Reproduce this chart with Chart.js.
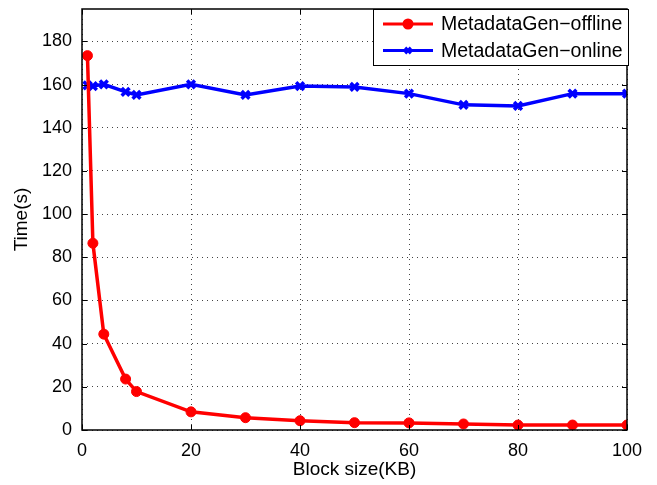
<!DOCTYPE html>
<html>
<head>
<meta charset="utf-8">
<script src="https://cdn.jsdelivr.net/npm/chart.js@4.4.1/dist/chart.umd.min.js"></script>
<style>
  html, body { margin: 0; padding: 0; background: #fff; }
  #wrap { position: relative; width: 657px; height: 485px; }
</style>
</head>
<body>
<div id="wrap"><canvas id="chart" width="657" height="485"></canvas></div>
<script>
// block sizes (KB)
const blockSizes = [1, 2, 4, 8, 10, 20, 30, 40, 50, 60, 70, 80, 90, 100];
// time (s) per series
const offlineTimes = [173.4, 86.5, 44.4, 23.6, 17.8, 8.4, 5.7, 4.3, 3.4, 3.3, 2.8, 2.3, 2.3, 2.3];
const onlineTimes = [159.6, 159.3, 160.1, 156.6, 155.2, 160.1, 155.2, 159.3, 158.9, 155.8, 150.6, 150.1, 155.8, 155.8];
const seriesNames = ['MetadataGen\u2212offline', 'MetadataGen\u2212online'];
const xTicks = [0, 20, 40, 60, 80, 100];
const yTicks = [0, 20, 40, 60, 80, 100, 120, 140, 160, 180];

const FONT = "'Liberation Sans', Arial, Helvetica, sans-serif";

// ticks pointing inwards, matlab style, on all four sides
const innerTicks = {
    id: 'innerTicks',
    afterDatasetsDraw(chart) {
        const { ctx, chartArea: a, scales } = chart;
        ctx.save();
        ctx.strokeStyle = '#000';
        ctx.lineWidth = 1;
        ctx.beginPath();
        xTicks.forEach(v => {
            const px = Math.round(scales.x.getPixelForValue(v)) + 0.5;
            ctx.moveTo(px, a.bottom); ctx.lineTo(px, a.bottom - 5);
            ctx.moveTo(px, a.top); ctx.lineTo(px, a.top + 5);
        });
        yTicks.forEach(v => {
            const py = Math.round(scales.y.getPixelForValue(v)) + 0.5;
            ctx.moveTo(a.left, py); ctx.lineTo(a.left + 5, py);
            ctx.moveTo(a.right, py); ctx.lineTo(a.right - 5, py);
        });
        ctx.stroke();
        ctx.lineWidth = 1.5;
        ctx.strokeRect(a.left, a.top, a.right - a.left, a.bottom - a.top);
        ctx.restore();
    }
};

// legend box inside the top right corner
const boxLegend = {
    id: 'boxLegend',
    afterDraw(chart) {
        const { ctx, chartArea: a } = chart;
        const x0 = 373, y0 = a.top, w = a.right + 2 - x0, h = 57;
        ctx.save();
        ctx.fillStyle = '#fff';
        ctx.fillRect(x0, y0, w, h);
        ctx.strokeStyle = '#000';
        ctx.lineWidth = 1;
        ctx.strokeRect(x0 + 0.5, y0 + 0.5, w - 1, h - 1);
        ctx.font = '19.5px ' + FONT;
        ctx.textBaseline = 'middle';
        chart.data.datasets.forEach((ds, i) => {
            const cy = y0 + 15 + i * 26.5;
            ctx.strokeStyle = ds.borderColor;
            ctx.fillStyle = ds.borderColor;
            ctx.lineWidth = 3;
            ctx.beginPath();
            ctx.moveTo(x0 + 10, cy); ctx.lineTo(x0 + 60, cy);
            ctx.stroke();
            Chart.helpers.drawPoint(ctx, {
                pointStyle: ds.pointStyle, radius: 4,
                borderWidth: ds.pointBorderWidth
            }, x0 + 35, cy);
            if (ds.pointStyle === 'circle') {
                ctx.beginPath();
                ctx.arc(x0 + 35, cy, 4, 0, Math.PI * 2);
                ctx.fill();
            }
            ctx.fillStyle = '#000';
            ctx.fillText(seriesNames[i], x0 + 68, cy + 1);
        });
        ctx.restore();
    }
};

new Chart(document.getElementById('chart'), {
    type: 'line',
    data: {
        datasets: [
            {
                label: seriesNames[0],
                data: blockSizes.map((b, i) => ({ x: b, y: offlineTimes[i] })),
                borderColor: '#ff0000',
                backgroundColor: '#ff0000',
                borderWidth: 3.5,
                pointStyle: 'circle',
                pointRadius: 5,
                pointBorderWidth: 1,
                pointBackgroundColor: '#ff0000',
                tension: 0
            },
            {
                label: seriesNames[1],
                data: blockSizes.map((b, i) => ({ x: b, y: onlineTimes[i] })),
                borderColor: '#0000ff',
                backgroundColor: '#0000ff',
                borderWidth: 3.5,
                pointStyle: 'crossRot',
                pointRadius: 5.5,
                pointBorderWidth: 3.5,
                tension: 0
            }
        ]
    },
    options: {
        responsive: false,
        animation: false,
        layout: { padding: { top: 5, right: 30, left: 0, bottom: 0 } },
        plugins: { legend: { display: false }, tooltip: { enabled: false } },
        scales: {
            x: {
                type: 'linear', min: 0, max: 100,
                afterBuildTicks: s => { s.ticks = xTicks.map(v => ({ value: v })); },
                afterFit: s => { s.height = 55; s.paddingLeft = 0; s.paddingRight = 0; },
                grid: { color: '#444', drawTicks: false, lineWidth: 1 },
                border: { display: false, dash: [1, 4] },
                ticks: { color: '#000', font: { family: FONT, size: 18 }, padding: 10, maxRotation: 0 },
                title: { display: true, text: 'Block size(KB)', color: '#000', font: { family: FONT, size: 19 }, padding: { top: 0, bottom: 4 } }
            },
            y: {
                type: 'linear', min: 0, max: 195,
                afterBuildTicks: s => { s.ticks = yTicks.map(v => ({ value: v })); },
                afterFit: s => { s.width = 82; s.paddingTop = 0; s.paddingBottom = 0; },
                grid: { color: '#444', drawTicks: false, lineWidth: 1 },
                border: { display: false, dash: [1, 4] },
                ticks: { color: '#000', font: { family: FONT, size: 18 }, padding: 10 },
                title: { display: true, text: 'Time(s)', color: '#000', font: { family: FONT, size: 19 }, padding: { top: 10, bottom: 0 } }
            }
        }
    },
    plugins: [innerTicks, boxLegend]
});
</script>
</body>
</html>
